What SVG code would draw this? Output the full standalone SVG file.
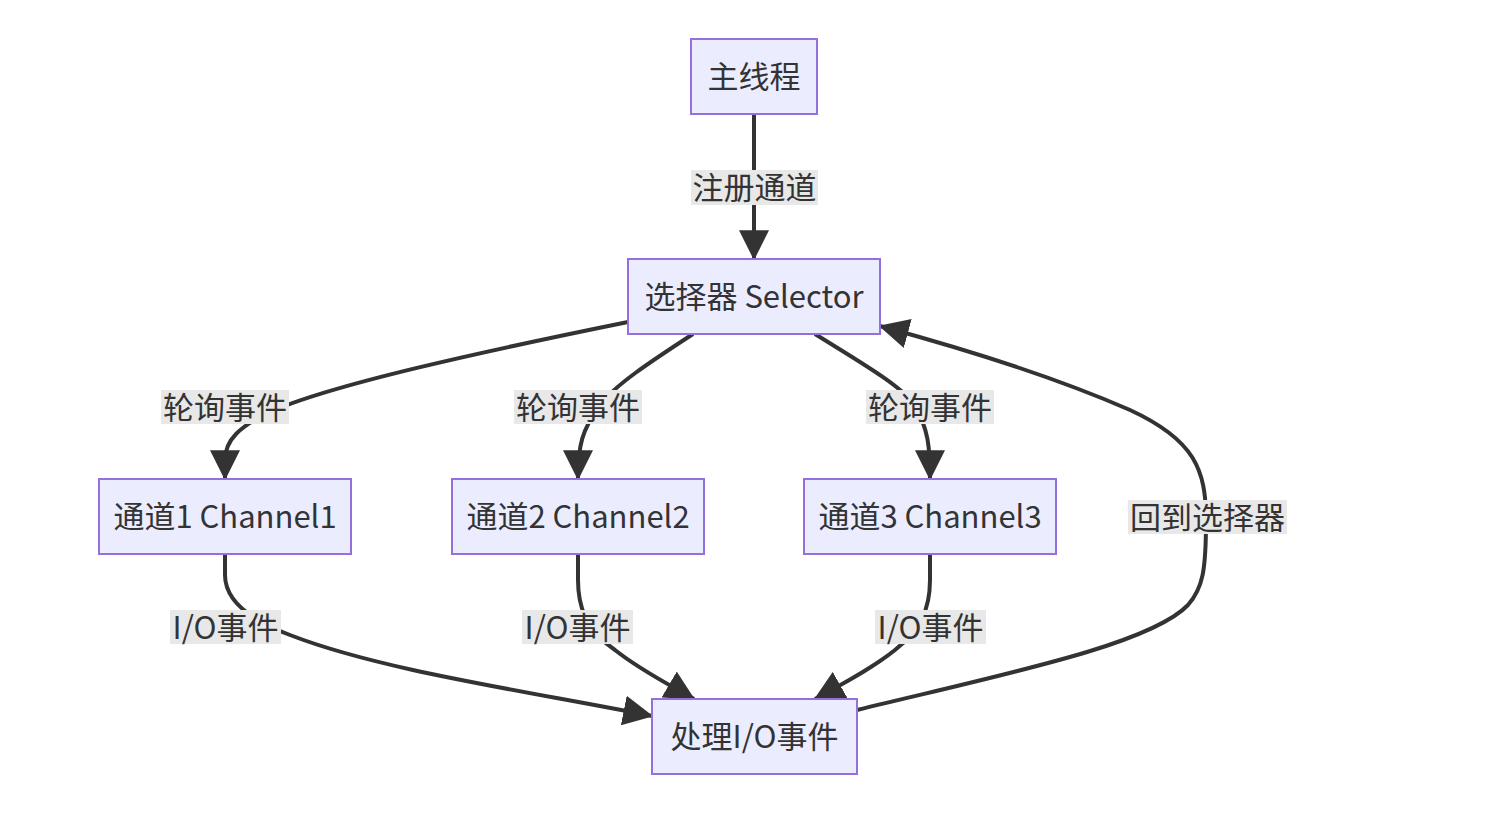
<svg xmlns="http://www.w3.org/2000/svg" width="1486" height="828" viewBox="0 0 1486 828">
<defs>
<marker id="arrow" markerUnits="userSpaceOnUse" markerWidth="30" markerHeight="30" viewBox="0 0 24 24" refX="23" refY="12" orient="auto">
<path d="M0,0 L24,12 L0,24 Z" fill="#333333"/>
</marker>
<style>
.node rect{fill:#ECECFF;stroke:#9370DB;stroke-width:2}
.node text,.lbl text{font-family:"Noto Sans CJK SC","Noto Sans",sans-serif;font-size:31px;fill:#333333;text-anchor:middle;dominant-baseline:central}
.edge{fill:none;stroke:#333333;stroke-width:4}
.arr{marker-end:url(#arrow)}
.lbl rect{fill:#e8e8e8}
</style>
</defs>
<rect width="1486" height="828" fill="#ffffff"/>
<g id="connectors">
<path class="edge arr" d="M754,114 L754,259"/>
<path class="edge arr" d="M628,322 C480,352 330,385 270,412 C240,426 225,440 225,460 L225,479"/>
<path class="edge arr" d="M693,334 C650,362 615,385 600,405 C582,430 578,445 578,479"/>
<path class="edge arr" d="M815,334 C860,362 900,385 915,405 C928,430 930,445 930,479"/>
<path class="edge arr" d="M225,554 L225,575 C225,600 250,620 290,635 C380,670 520,690 652,716"/>
<path class="edge arr" d="M578,554 L578,580 C578,605 585,630 615,650 C640,670 670,685 694,699"/>
<path class="edge arr" d="M930,554 L930,580 C930,610 920,630 895,650 C870,670 840,685 815,699"/>
<path class="edge arr" d="M857,710 C1000,675 1150,645 1188,605 C1203,588 1206,570 1206,520 C1206,470 1195,440 1130,410 C1050,375 950,345 880,326"/>
<g class="lbl"><rect x="691" y="170" width="127" height="35"/><text x="754.5" y="185.5">注册通道</text></g>
<g class="lbl"><rect x="161" y="390" width="128" height="34"/><text x="225" y="405">轮询事件</text></g>
<g class="lbl"><rect x="514" y="390" width="128" height="34"/><text x="578" y="405">轮询事件</text></g>
<g class="lbl"><rect x="866" y="390" width="128" height="34"/><text x="930" y="405">轮询事件</text></g>
<g class="lbl"><rect x="1128" y="500" width="159" height="34"/><text x="1207.5" y="515">回到选择器</text></g>
<g class="lbl"><rect x="170" y="610" width="111" height="34"/><text x="225.5" y="625">I/O事件</text></g>
<g class="lbl"><rect x="522" y="610" width="111" height="34"/><text x="577.5" y="625">I/O事件</text></g>
<g class="lbl"><rect x="875" y="610" width="111" height="34"/><text x="930.5" y="625">I/O事件</text></g>
</g>
<g id="main" class="node"><rect x="691" y="39" width="126" height="75"/><text x="754" y="74.5">主线程</text></g>
<g id="selector" class="node"><rect x="628" y="259" width="252" height="75"/><text x="754" y="294.5">选择器 Selector</text></g>
<g id="ch1" class="node"><rect x="99" y="479" width="252" height="75"/><text x="225" y="514.5">通道1 Channel1</text></g>
<g id="ch2" class="node"><rect x="452" y="479" width="252" height="75"/><text x="578" y="514.5">通道2 Channel2</text></g>
<g id="ch3" class="node"><rect x="804" y="479" width="252" height="75"/><text x="930" y="514.5">通道3 Channel3</text></g>
<g id="handle" class="node"><rect x="652" y="699" width="205" height="75"/><text x="754.5" y="734.5">处理I/O事件</text></g>
</svg>
